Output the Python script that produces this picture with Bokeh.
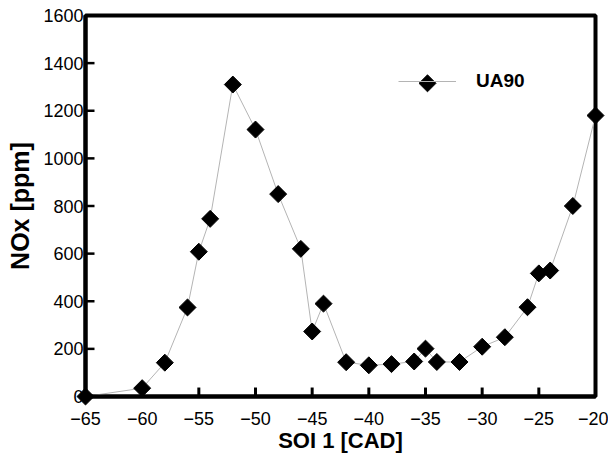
import numpy as np
from bokeh.plotting import figure
from bokeh.models import FixedTicker, Range1d, Legend, LegendItem
from bokeh.embed import file_html
from bokeh.resources import INLINE

soi = [-65, -60, -58, -56, -55, -54, -52, -50, -48, -46, -45, -44, -42, -40,
       -38, -36, -35, -34, -32, -30, -28, -26, -25, -24, -22, -20]
nox = [0, 35, 142, 374, 608, 746, 1310, 1121, 850, 620, 273, 390, 144, 131,
       136, 147, 201, 145, 145, 209, 249, 375, 517, 529, 800, 1180]
series_name = "UA90"
x_ticks = [-65, -60, -55, -50, -45, -40, -35, -30, -25, -20]
y_ticks = [0, 200, 400, 600, 800, 1000, 1200, 1400, 1600]
x_title = "SOI 1 [CAD]"
y_title = "NOx [ppm]"

FONT = "Liberation Sans"
FRAME_W, FRAME_H = 510, 382
TICK_PX = 9

x_lo, x_hi = x_ticks[0], x_ticks[-1]
y_lo, y_hi = y_ticks[0], y_ticks[-1]

p = figure(width=608, height=455, output_backend="svg", toolbar_location=None,
           x_range=Range1d(x_lo, x_hi), y_range=Range1d(y_lo, y_hi),
           min_border_left=85, min_border_right=13, min_border_top=15,
           min_border_bottom=58)
p.extra_x_ranges = {"lx": Range1d(0, FRAME_W)}
p.extra_y_ranges = {"ly": Range1d(0, FRAME_H)}

p.grid.visible = False
p.outline_line_color = "black"
p.outline_line_width = 4
p.background_fill_color = "white"
p.border_fill_color = "white"

ln = p.line(soi, nox, line_color="#b4b4b4", line_width=1)

# inward tick marks (length TICK_PX pixels, converted to data units)
tick_dy = TICK_PX * (y_hi - y_lo) / FRAME_H
tick_dx = TICK_PX * (x_hi - x_lo) / FRAME_W
p.segment(x0=x_ticks, y0=[y_lo] * len(x_ticks), x1=x_ticks, y1=[y_lo + tick_dy] * len(x_ticks),
          line_color="black", line_width=3, level="overlay")
p.segment(x0=[x_lo] * len(y_ticks), y0=y_ticks, x1=[x_lo + tick_dx] * len(y_ticks), y1=y_ticks,
          line_color="black", line_width=2.5, level="overlay")

# markers on the overlay level so that those sitting on the frame edge are not cut
mk = p.scatter(soi, nox, marker="square", size=12, angle=np.pi / 4,
               fill_color="black", line_color="black", level="overlay")

for ax in (p.xaxis[0], p.yaxis[0]):
    ax.axis_line_width = 4
    ax.axis_line_color = "black"
    ax.major_tick_in = 0
    ax.major_tick_out = 0
    ax.minor_tick_line_color = None
    ax.major_label_text_font = FONT
    ax.major_label_text_font_size = "18px"
    ax.major_label_text_color = "black"
    ax.axis_label_text_font = FONT
    ax.axis_label_text_font_style = "bold"
    ax.axis_label_text_color = "black"

p.xaxis[0].ticker = FixedTicker(ticks=x_ticks)
p.yaxis[0].ticker = FixedTicker(ticks=y_ticks)
p.xaxis[0].axis_label = x_title
p.yaxis[0].axis_label = y_title
p.xaxis[0].axis_label_text_font_size = "22px"
p.yaxis[0].axis_label_text_font_size = "25px"
p.xaxis[0].major_label_standoff = 15
p.xaxis[0].axis_label_standoff = 0
p.yaxis[0].major_label_standoff = 2
p.yaxis[0].axis_label_standoff = 6

# legend: sample line + label, diamond symbol drawn on top of the sample line
LEG_X, LEG_Y, GW, GH = 313, 304, 58, 20
legend = Legend(items=[LegendItem(label=series_name, renderers=[ln])],
                location=(LEG_X, LEG_Y), padding=0, margin=0, spacing=0,
                glyph_width=GW, glyph_height=GH, label_standoff=20,
                label_text_font=FONT, label_text_font_style="bold",
                label_text_font_size="19px", label_text_color="black",
                border_line_color=None, background_fill_alpha=0)
p.add_layout(legend, "center")
p.scatter([LEG_X + GW / 2], [LEG_Y + GH / 2], x_range_name="lx", y_range_name="ly",
          marker="square", size=12, angle=np.pi / 4,
          fill_color="black", line_color="black", level="overlay")

open("out.html", "w").write(file_html(p, INLINE))
